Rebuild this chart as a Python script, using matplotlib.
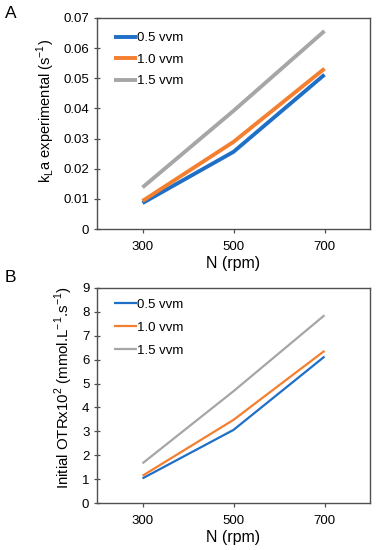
import matplotlib
matplotlib.use("Agg")
import matplotlib.pyplot as plt

plt.rcParams['font.family'] = ['Liberation Sans', 'DejaVu Sans']
plt.rcParams['mathtext.fontset'] = 'custom'
plt.rcParams['mathtext.rm'] = 'Liberation Sans'

rpm = [300, 500, 700]
series_labels = ["0.5 vvm", "1.0 vvm", "1.5 vvm"]
kla_05 = [0.0086, 0.0256, 0.0512]
kla_10 = [0.0093, 0.0289, 0.0532]
kla_15 = [0.0138, 0.0392, 0.0657]
otr_05 = [1.03, 3.06, 6.13]
otr_10 = [1.14, 3.48, 6.37]
otr_15 = [1.66, 4.68, 7.86]
colors = ["#1F6FC6", "#F47F2F", "#A6A6A6"]

fig = plt.figure(figsize=(3.76, 5.5), dpi=100)
W, H = 376, 550
axA = fig.add_axes([97 / W, 1 - 229 / H, 273 / W, 211 / H])
axB = fig.add_axes([97 / W, 1 - 503 / H, 273 / W, 215 / H])

SP = "#505050"

def style(ax, ylim, yticks, yticklabels, ylabel, ylfs, ylpos):
    ax.set_xlim(200, 800)
    ax.set_xticks(rpm)
    ax.set_xticklabels([str(r) for r in rpm], fontsize=9.5)
    ax.set_ylim(*ylim)
    ax.set_yticks(yticks)
    ax.set_yticklabels(yticklabels, fontsize=9.5)
    ax.tick_params(axis="x", length=3, width=0.9, color=SP, pad=6, direction="out")
    ax.tick_params(axis="y", length=5, width=0.9, color=SP, pad=3, direction="inout")
    for s in ax.spines.values():
        s.set_linewidth(1.0)
        s.set_color(SP)
    ax.set_xlabel("N (rpm)", fontsize=11.5, labelpad=2)
    ax.set_ylabel(ylabel, fontsize=ylfs, labelpad=5)
    ax.yaxis.label.set_y(ylpos)

for vals, lab, c in zip([kla_05, kla_10, kla_15], series_labels, colors):
    axA.plot(rpm, vals, color=c, lw=2.8, label=lab, solid_capstyle="butt")
style(axA, (0, 0.07), [i / 100 for i in range(8)],
      ["0"] + ["%.2f" % (i / 100) for i in range(1, 8)],
      r"k$_\mathregular{L}$a experimental (s$^\mathregular{-1}$)", 10.5, 0.56)
axA.legend(loc="upper left", frameon=False, fontsize=9.5, handlelength=1.75,
           handletextpad=0.0, labelspacing=0.7, bbox_to_anchor=(0.02, 0.99))

for vals, lab, c in zip([otr_05, otr_10, otr_15], series_labels, colors):
    axB.plot(rpm, vals, color=c, lw=1.6, label=lab, solid_capstyle="butt")
style(axB, (0, 9), list(range(10)), [str(i) for i in range(10)],
      r"Initial OTRx10$^\mathregular{2}$ (mmol.L$^\mathregular{-1}$.s$^\mathregular{-1}$)",
      10.8, 0.535)
axB.legend(loc="upper left", frameon=False, fontsize=9.5, handlelength=1.75,
           handletextpad=0.0, labelspacing=0.8, bbox_to_anchor=(0.02, 1.005))

fig.text(5 / W, 1 - 13 / H, "A", fontsize=12.5, va="center", ha="left")
fig.text(5 / W, 1 - 278 / H, "B", fontsize=12.5, va="center", ha="left")

fig.savefig("out.png", dpi=100)
